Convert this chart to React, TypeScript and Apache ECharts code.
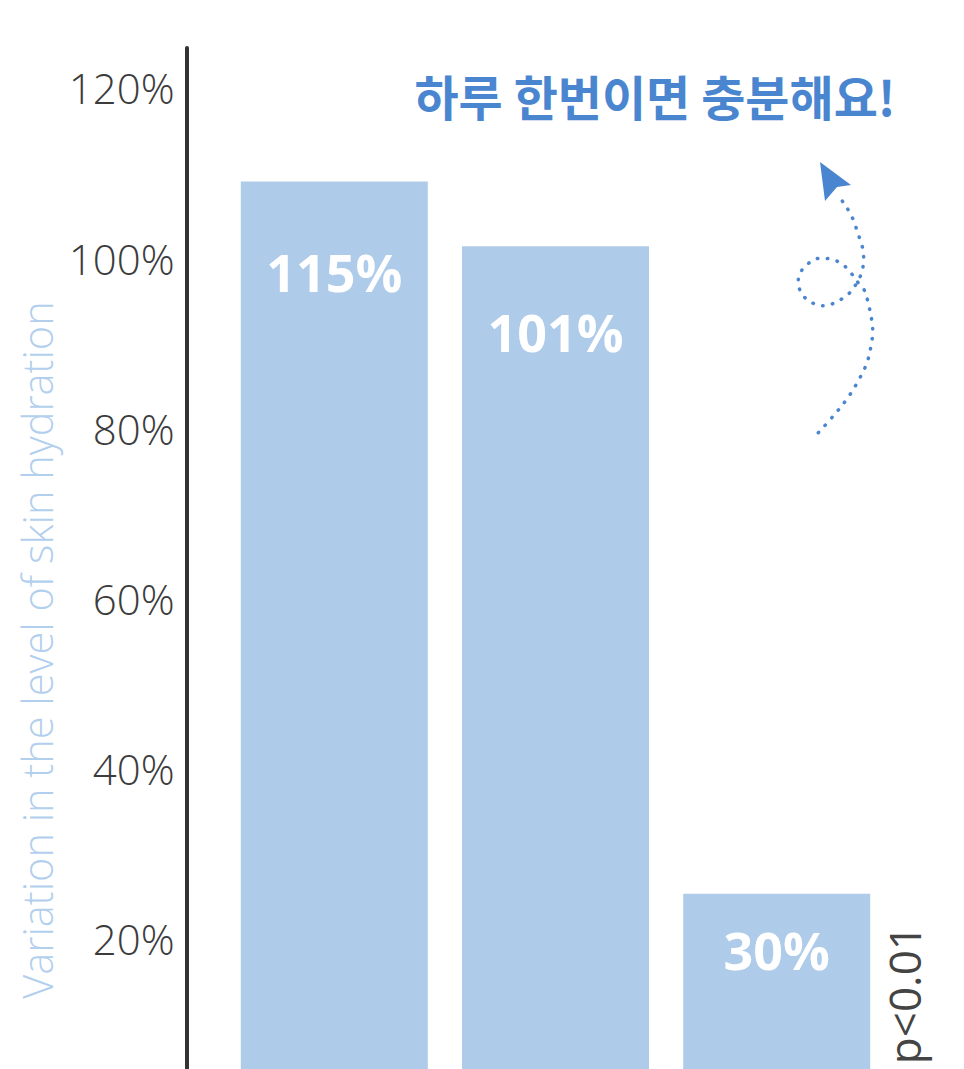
import React, { useEffect, useRef } from "react";
import * as echarts from "echarts";

// ---- data ----
const categories = ["A", "B", "C"];
// bar heights as drawn in the picture (percent on the y scale)
const barHeights = [109, 101.4, 25.3];
// printed labels on the bars
const valueLabels = ["115%", "101%", "30%"];
const yTicks = [0, 20, 40, 60, 80, 100, 120];
const yAxisTitle = "Variation in the level of skin hydration";
const headline = "하루 한번이면 충분해요!";
const noteText = "p<0.01";

// styling (not data)
const labelDistance = [62, 57, 28];

const BLUE_BAR = "#afcbea";
const BLUE_TEXT = "#4a86d0";

export default function App() {
  const ref = useRef<HTMLDivElement>(null);
  useEffect(() => {
    if (!ref.current) return;
    document.body.style.overflow = "hidden";
    const chart = echarts.init(ref.current, null, { renderer: "svg" });

    const arrowPts = [
      [818.3, 432.7], [832.7, 416.7], [846.7, 399.3], [858.3, 380.7], [867.3, 361.7],
      [871.7, 341.7], [872.7, 330.7], [871.7, 320], [867.3, 299.3], [863.3, 288.3],
      [857.3, 281.7], [850, 271.7], [843.3, 265], [834, 260], [824, 258.3],
      [815, 259.3], [806.7, 265], [800, 273.3], [798.3, 282.7], [800.7, 291.7],
      [806.7, 299.3], [815, 304], [825, 305.7], [835, 302.7], [844, 297.3],
      [851.7, 290.7], [857.3, 281.7], [861.7, 272.7], [863.3, 263.3], [863.3, 251.7],
      [860.7, 241.7], [857.3, 231.7], [854, 221.7], [849.3, 211.7], [843.3, 202.7],
      [838.3, 193.3],
    ];

    chart.setOption({
      animation: false,
      grid: {
        left: 223.7,
        right: 76.7,
        top: 48,
        bottom: 0,
        containLabel: false,
        outerBoundsMode: "none",
      },
      xAxis: {
        type: "category",
        data: categories,
        show: false,
      },
      yAxis: {
        type: "value",
        min: yTicks[0],
        max: 124.7,
        interval: 20,
        offset: 37,
        axisLine: { show: true, lineStyle: { color: "#333", width: 4 } },
        axisTick: { show: false },
        splitLine: { show: false },
        axisLabel: {
          showMaxLabel: false,
          showMinLabel: false,
          margin: 12,
          color: "#3c3c3c",
          fontSize: 42,
          fontFamily: "Open Sans",
          fontWeight: 300,
          formatter: (v: number) => (yTicks.includes(v) ? `${v}%` : ""),
        },
      },
      series: [
        {
          type: "bar",
          barWidth: 187,
          itemStyle: { color: BLUE_BAR },
          data: barHeights.map((v, i) => ({
            value: v,
            label: {
              show: true,
              position: "insideTop",
              distance: labelDistance[i],
              formatter: valueLabels[i],
              color: "#ffffff",
              fontSize: 52,
              fontWeight: "bold",
              fontFamily: "Open Sans",
              lineHeight: 56,
            },
          })),
        },
      ],
      graphic: [
        {
          type: "text",
          x: 37,
          y: 650,
          rotation: Math.PI / 2,
          style: {
            text: yAxisTitle,
            fill: "#b3cfee",
            fontSize: 41.5,
            fontFamily: "Open Sans",
            fontWeight: 300,
            align: "center",
            verticalAlign: "middle",
          },
        },
        {
          type: "text",
          x: 655,
          y: 95,
          style: {
            text: headline,
            fill: BLUE_TEXT,
            fontSize: 48,
            fontFamily: "Noto Sans CJK KR",
            fontWeight: "bold",
            align: "center",
            verticalAlign: "middle",
          },
        },
        {
          type: "text",
          x: 904,
          y: 925,
          rotation: Math.PI / 2,
          style: {
            text: noteText,
            fill: "#444",
            fontSize: 44,
            fontFamily: "Open Sans",
            align: "right",
            verticalAlign: "middle",
          },
        },
        {
          type: "polyline",
          shape: { points: arrowPts, smooth: 0.4 },
          style: {
            stroke: BLUE_TEXT,
            fill: null,
            lineWidth: 3.5,
            lineDash: [0.5, 9.5],
            lineCap: "round",
          },
        },
        {
          type: "polygon",
          shape: {
            points: [[820, 162], [851, 185], [837, 187], [825, 201]],
          },
          style: { fill: BLUE_TEXT },
        },
      ],
    });
    return () => chart.dispose();
  }, []);
  return (
    <div
      ref={ref}
      style={{ position: "fixed", left: 0, top: 0, width: 964, height: 1109, background: "#fff" }}
    />
  );
}
